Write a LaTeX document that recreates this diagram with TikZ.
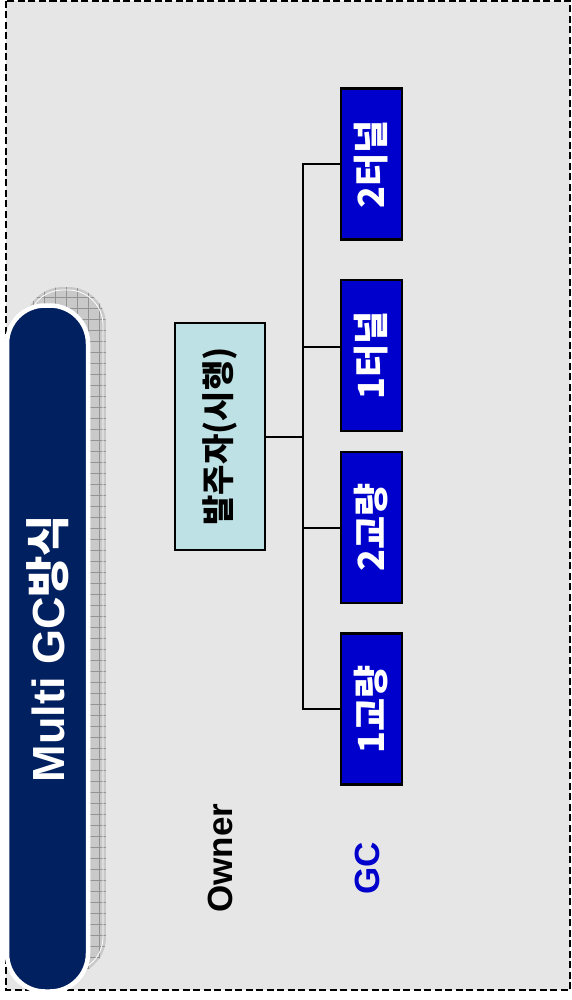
\documentclass[tikz,border=0pt]{standalone}
\usepackage{fontspec}
\setmainfont{Liberation Sans}
\newfontfamily\kr{Noto Sans CJK KR}
\usetikzlibrary{positioning}
\definecolor{panelgrey}{HTML}{E6E6E6}
\definecolor{titlenavy}{HTML}{002060}
\definecolor{gcblue}{HTML}{0000CC}
\definecolor{ownercyan}{HTML}{BDE1E4}

\begin{document}
\begin{tikzpicture}[x=1pt,y=-1pt,
  gcbox/.style={draw=black,line width=2.2pt,fill=gcblue,text=white,rotate=90,
    minimum width=151pt,minimum height=61pt,inner sep=0pt,font=\kr\bfseries\fontsize{36}{40}\selectfont},
  tier/.style={rotate=90,font=\bfseries\fontsize{35}{40}\selectfont}]
\useasboundingbox (0,0) rectangle (572,1000);
% panel
\draw[fill=panelgrey,line width=2.4pt,dash pattern=on 7pt off 3.5pt] (6,1) rectangle (570,990);
% shadow of the title
\begin{scope}
\clip[rounded corners=38pt] (25,287) rectangle (106,975);
\fill[gray!42] (25,287) rectangle (106,975);
\draw[gray!85,line width=0.6pt] (25,287) grid[step=11pt] (106,975);
\end{scope}
\draw[white,line width=0.8pt,rounded corners=35pt] (28,290) rectangle (103,972);
% title
\node[draw=white,line width=4.5pt,fill=titlenavy,rounded corners=38pt,rotate=90,
  minimum width=686pt,minimum height=81pt,text=white,font=\bfseries\fontsize{45}{50}\selectfont]
  (title) at (47.5,648.5) {Multi GC{\kr 방식}};
% owner
\node[draw=black,line width=2pt,fill=ownercyan,rotate=90,minimum width=227pt,minimum height=90pt,
  inner sep=0pt,font=\kr\bfseries\fontsize{33}{36}\selectfont] (owner) at (220,436.5) {발주자(시행)};
% GC packages
\node[gcbox] (t2) at (371.5,164) {2터널};
\node[gcbox] (t1) at (371.5,355.5) {1터널};
\node[gcbox] (b2) at (371.5,527.5) {2교량};
\node[gcbox] (b1) at (371.5,709) {1교량};
% tree
\coordinate (hub) at (303,436.5);
\coordinate (j1) at ([yshift=9pt]t1.north);
\draw[line width=2pt] (owner.south) -- (hub);
\draw[line width=2pt] (t2.north) -| (hub) |- (b1.north);
\draw[line width=2pt] (j1) -- (hub |- j1);
\draw[line width=2pt] (b2.north) -- (hub |- b2.north);
% tiers
\node[tier] (lowner) at (220,858) {Owner};
\node[tier,text=gcblue] (lgc) at (367,868) {GC};
\end{tikzpicture}
\end{document}
